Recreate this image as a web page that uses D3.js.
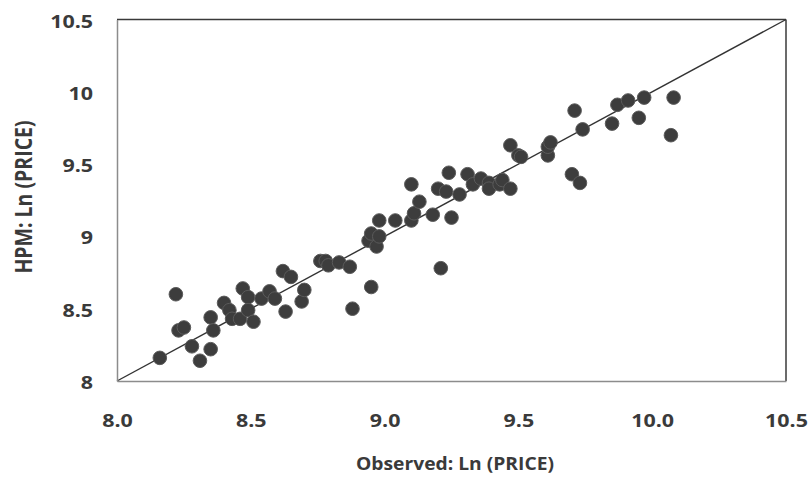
<!DOCTYPE html>
<html>
<head>
<meta charset="utf-8">
<script src="https://cdn.jsdelivr.net/npm/d3@7"></script>
<style>
  body { margin: 0; background: #fff; }
  text { font-family: "Open Sans", "Liberation Sans", sans-serif; font-weight: 700; fill: #3a3a3a; }
</style>
</head>
<body>
<svg id="chart" width="808" height="477"></svg>
<script>
// observed ln(price) vs HPM predicted ln(price)
var observed = [8.16, 8.22, 8.23, 8.25, 8.28, 8.31, 8.35, 8.35, 8.36, 8.40,
                8.42, 8.43, 8.46, 8.47, 8.49, 8.49, 8.51, 8.54, 8.57, 8.59,
                8.63, 8.62, 8.65, 8.69, 8.70, 8.76, 8.78, 8.79, 8.83, 8.87,
                8.88, 8.95, 8.94, 8.95, 8.97, 8.98, 8.98, 9.04, 9.10, 9.11,
                9.18, 9.25, 9.13, 9.21, 9.10, 9.20, 9.23, 9.24, 9.28, 9.31,
                9.33, 9.36, 9.39, 9.39, 9.43, 9.44, 9.47, 9.47, 9.50, 9.51,
                9.61, 9.61, 9.62, 9.70, 9.73, 9.71, 9.74, 9.85, 9.87, 9.91,
                9.97, 9.95, 10.08, 10.07];
var hpm = [8.16, 8.60, 8.35, 8.37, 8.24, 8.14, 8.22, 8.44, 8.35, 8.54,
           8.49, 8.43, 8.43, 8.64, 8.58, 8.49, 8.41, 8.57, 8.62, 8.57,
           8.48, 8.76, 8.72, 8.55, 8.63, 8.83, 8.83, 8.80, 8.82, 8.79,
           8.50, 8.65, 8.97, 9.02, 8.93, 9.00, 9.11, 9.11, 9.11, 9.16,
           9.15, 9.13, 9.24, 8.78, 9.36, 9.33, 9.31, 9.44, 9.29, 9.43,
           9.36, 9.40, 9.37, 9.33, 9.36, 9.39, 9.33, 9.63, 9.56, 9.55,
           9.56, 9.62, 9.65, 9.43, 9.37, 9.87, 9.74, 9.78, 9.91, 9.94,
           9.96, 9.82, 9.96, 9.70];
var xTicks = [8.0, 8.5, 9.0, 9.5, 10.0, 10.5];
var yTicks = [8, 8.5, 9, 9.5, 10, 10.5];

var svg = d3.select("#chart"),
    margin = {top: 19.5, right: 22, bottom: 96, left: 117},
    width = +svg.attr("width") - margin.left - margin.right,
    height = +svg.attr("height") - margin.top - margin.bottom,
    g = svg.append("g").attr("transform", "translate(" + margin.left + "," + margin.top + ")");

var x = d3.scaleLinear().domain([8, 10.5]).range([0, width]);
var y = d3.scaleLinear().domain([8, 10.5]).range([height, 0]);

// the picture is a little wider than tall, text too
var stretch = "scale(1.19,1)";

// plot border (top/right dark, axes gray)
g.append("line").attr("x1", 0).attr("x2", width).attr("y1", 0).attr("y2", 0)
  .attr("stroke", "#3a3a3a").attr("stroke-width", 1.5);
g.append("line").attr("x1", width).attr("x2", width).attr("y1", 0).attr("y2", height)
  .attr("stroke", "#3a3a3a").attr("stroke-width", 1.5);

// y = x reference line
g.append("line")
  .attr("x1", x(8)).attr("y1", y(8))
  .attr("x2", x(10.5)).attr("y2", y(10.5))
  .attr("stroke", "#333").attr("stroke-width", 1.4);

// axes
var xAxis = g.append("g")
  .attr("transform", "translate(0," + height + ")")
  .call(d3.axisBottom(x).tickValues(xTicks).tickFormat(d3.format(".1f")).tickSize(0));
xAxis.select(".domain").attr("stroke", "#8c8c8c").attr("stroke-width", 1.5);
xAxis.selectAll("text")
  .attr("y", 0).attr("dy", 0)
  .attr("transform", "translate(0,46) " + stretch)
  .style("font-size", "18px");

var yAxis = g.append("g")
  .call(d3.axisLeft(y).tickValues(yTicks).tickFormat(d3.format("~g")).tickSize(0));
yAxis.select(".domain").attr("stroke", "#8c8c8c").attr("stroke-width", 1.5);
yAxis.selectAll("text")
  .attr("x", 0).attr("dy", "0.42em")
  .attr("transform", "translate(-24,0) " + stretch)
  .style("font-size", "18px");
g.selectAll(".tick text").attr("fill", "#3a3a3a");

// points
g.append("g")
  .selectAll("circle")
  .data(observed.map(function(d, i) { return [d, hpm[i]]; }))
  .enter().append("circle")
    .attr("cx", function(d) { return x(d[0]); })
    .attr("cy", function(d) { return y(d[1]); })
    .attr("r", 6.8)
    .attr("fill", "#3d3d3d")
    .attr("stroke", "#5a5a5a")
    .attr("stroke-width", 1);

// axis titles
svg.append("text")
  .attr("transform", "translate(455,470) scale(1.07,1)")
  .attr("text-anchor", "middle")
  .style("font-size", "18px")
  .text("Observed: Ln (PRICE)");

svg.append("text")
  .attr("transform", "translate(32,197) " + stretch + " rotate(-90)")
  .attr("text-anchor", "middle")
  .style("font-size", "19.5px")
  .text("HPM: Ln (PRICE)");
</script>
</body>
</html>
